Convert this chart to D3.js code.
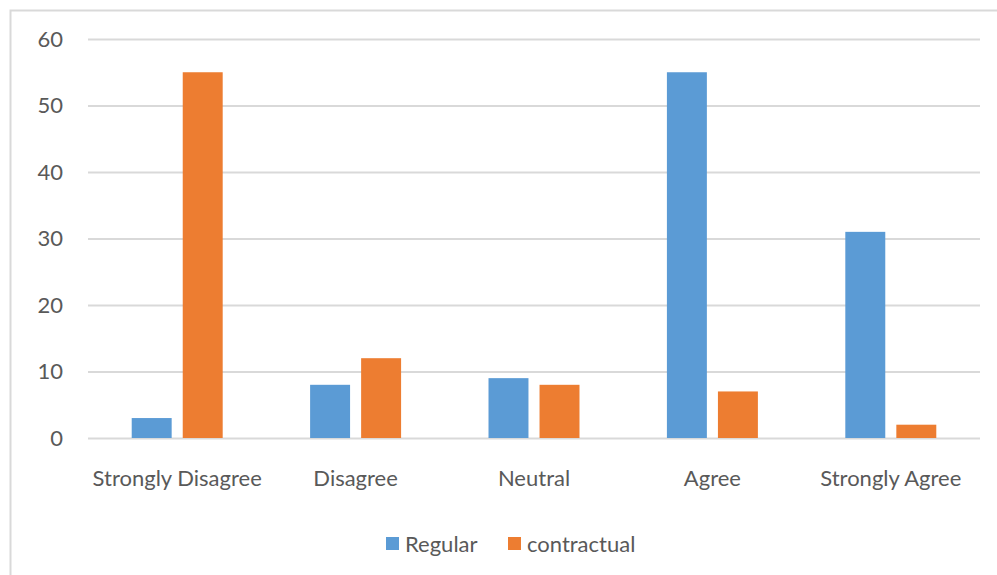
<!DOCTYPE html>
<html>
<head>
<meta charset="utf-8">
<script src="https://cdn.jsdelivr.net/npm/d3@7"></script>
<style>
  body { margin: 0; background: #fff; }
  svg { display: block; }
</style>
</head>
<body>
<script>
// data
const categories = ["Strongly Disagree", "Disagree", "Neutral", "Agree", "Strongly Agree"];
const seriesNames = ["Regular", "contractual"];
const regular = [3, 8, 9, 55, 31];
const contractual = [55, 12, 8, 7, 2];
const yTicks = [0, 10, 20, 30, 40, 50, 60];
const colors = ["#5B9BD5", "#ED7D31"];

const width = 997;
const height = 575;
const marginLeft = 88;
const marginRight = 17;
const marginTop = 39;
const plotBottom = 438;
const font = "Lato, 'Open Sans', sans-serif";
const fontSize = "22px";
const textColor = "#595959";

const svg = d3.select("body")
    .append("svg")
    .attr("width", width)
    .attr("height", height);

// chart border (cut off at right and bottom like the original)
svg.append("rect")
    .attr("x", 10.5)
    .attr("y", 10.5)
    .attr("width", 1000)
    .attr("height", 600)
    .attr("fill", "none")
    .attr("stroke", "#d9d9d9")
    .attr("stroke-width", 2);

const xScale = d3.scaleBand()
    .domain(categories)
    .range([marginLeft, width - marginRight]);

const yScale = d3.scaleLinear()
    .domain([0, 60])
    .range([plotBottom, marginTop]);

// gridlines
const yAxis = svg.append("g")
    .attr("transform", "translate(" + marginLeft + ",0)")
    .call(d3.axisLeft(yScale)
        .tickValues(yTicks)
        .tickSize(-(width - marginRight - marginLeft))
        .tickPadding(25));
yAxis.select(".domain").remove();
yAxis.selectAll("line")
    .attr("stroke", "#d9d9d9")
    .attr("stroke-width", 2);
yAxis.selectAll("text")
    .attr("font-family", font)
    .attr("font-size", fontSize)
    .attr("fill", textColor);

// bars
const barWidth = xScale.bandwidth() * 0.224;
const barGap = xScale.bandwidth() * 0.062;
const rows = categories.map((c, i) => ({ cat: c, values: [regular[i], contractual[i]] }));

const groups = svg.append("g")
    .selectAll("g")
    .data(rows)
    .join("g")
    .attr("transform", d => "translate(" + (xScale(d.cat) + xScale.bandwidth() / 2) + ",0)");

groups.selectAll("rect")
    .data(d => d.values)
    .join("rect")
    .attr("x", (v, j) => j === 0 ? -barGap / 2 - barWidth : barGap / 2)
    .attr("y", v => yScale(v))
    .attr("width", barWidth)
    .attr("height", v => yScale(0) - yScale(v))
    .attr("fill", (v, j) => colors[j]);

// category labels
const xAxis = svg.append("g")
    .attr("transform", "translate(0," + plotBottom + ")")
    .call(d3.axisBottom(xScale).tickSize(0).tickPadding(32));
xAxis.select(".domain").remove();
xAxis.selectAll("text")
    .attr("font-family", font)
    .attr("font-size", fontSize)
    .attr("fill", textColor);

// legend
const legendX = [386, 508];
const legend = svg.append("g")
    .selectAll("g")
    .data(seriesNames)
    .join("g")
    .attr("transform", (d, i) => "translate(" + legendX[i] + ",537)");
legend.append("rect")
    .attr("width", 13)
    .attr("height", 13)
    .attr("fill", (d, i) => colors[i]);
legend.append("text")
    .attr("x", 19)
    .attr("y", 7)
    .attr("dy", "0.35em")
    .attr("font-family", font)
    .attr("font-size", fontSize)
    .attr("fill", textColor)
    .text(d => d);
</script>
</body>
</html>
